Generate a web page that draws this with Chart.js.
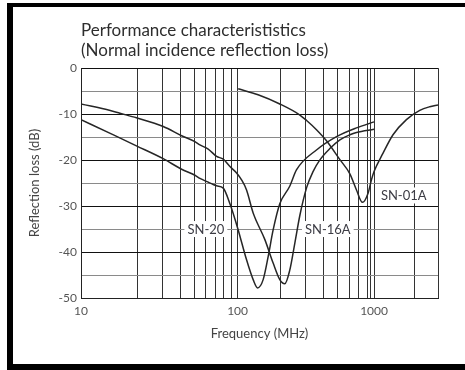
<!DOCTYPE html>
<html><head><meta charset="utf-8">
<script src="https://cdn.jsdelivr.net/npm/chart.js@4/dist/chart.umd.min.js"></script>
<style>
html,body{margin:0;padding:0;background:#fff;}
#frame{position:absolute;left:7px;top:3px;width:458px;height:367px;box-sizing:border-box;border-top:4px solid #000;border-left:6px solid #000;border-bottom:6px solid #000;}
#wrap{position:absolute;left:0;top:0;width:465px;height:370px;}
</style></head><body>
<div id="frame"></div>
<div id="wrap"><canvas id="c" width="465" height="370"></canvas></div>
<script>
// ---- data ----
const freqTicks = [10,20,30,40,50,60,70,80,90,100,200,300,400,500,600,700,800,900,1000,2000,3000];
const freqLabels = [10,100,1000];
const lossTicks = [-50,-45,-40,-35,-30,-25,-20,-15,-10,-5,0];

const sn20Freq = [10,14.3,19.7,30.2,40.6,50.3,54.5,62.3,67.5,71.3,79.4,88.4,95.8,101,115.5,128.4,137.9,150.8,163.4,177,197,231,258,355,490,675,1000];
const sn20Loss = [-11.2,-14.2,-16.9,-19.7,-22,-23.3,-24,-24.8,-25.3,-25.6,-26.1,-29.5,-32.8,-35.2,-41.7,-46,-47.8,-46,-41,-35.2,-29.5,-25.7,-22.1,-17.8,-14.9,-13,-11.7];

const sn16aFreq = [10,14.3,16.1,19.7,30.2,40.6,50.3,54.5,62.3,71.3,79.4,88.4,98.4,106.6,115.5,128.4,155,177,197,213.6,231,251,272,303,336,374,440,517,607,675,1000];
const sn16aLoss = [-7.8,-9.2,-9.8,-10.8,-12.7,-14.7,-16,-16.7,-17.6,-19.2,-19.8,-21.4,-22.8,-24.3,-26.5,-31.5,-37.3,-42.4,-46,-46.9,-44,-38,-32,-26,-22.5,-20,-17.5,-15.6,-14.5,-14,-13.3];

const sn01aFreq = [101,139,197,272,303,355,417,517,607,675,743,826,920,1000,1167,1385,1744,2192,2600,3000];
const sn01aLoss = [-4.5,-5.8,-7.8,-10.2,-11.4,-13.4,-15.8,-19.9,-23,-26.5,-29.2,-27.2,-24.3,-22.5,-18.5,-14.5,-11.2,-9.2,-8.4,-8];

const seriesNames = ['SN-20','SN-16A','SN-01A'];
const labelFreq = [60,426,1665];
const labelLoss = [-35,-35,-27.7];

// ---- axis calibration of the printed (slightly non-uniform) log axis ----
const warpKnots = [[10,0],[20,0.1587],[100,0.4386],[800,0.8013],[1000,0.8209],[3000,1]];

class WarpLogScale extends Chart.LogarithmicScale {
  static id = 'warplog';
  static defaults = {};
  getPixelForValue(value) {
    if (value === undefined || value === 0) value = this.min;
    if (value === null || isNaN(value)) return NaN;
    const lv = Math.log10(value);
    const k = warpKnots;
    let i = 0;
    while (i < k.length - 2 && lv > Math.log10(k[i+1][0])) i++;
    const a = Math.log10(k[i][0]), b = Math.log10(k[i+1][0]);
    const d = k[i][1] + (lv - a) / (b - a) * (k[i+1][1] - k[i][1]);
    return this.getPixelForDecimal(d);
  }
  getValueForPixel(pixel) {
    const d = this.getDecimalForPixel(pixel);
    const k = warpKnots;
    let i = 0;
    while (i < k.length - 2 && d > k[i+1][1]) i++;
    const a = Math.log10(k[i][0]), b = Math.log10(k[i+1][0]);
    return Math.pow(10, a + (d - k[i][1]) / (k[i+1][1] - k[i][1]) * (b - a));
  }
}
Chart.register(WarpLogScale);

const pts = (xs, ys) => xs.map((x, i) => ({x, y: ys[i]}));
const lineStyle = {borderColor:'#262626', borderWidth:1.5, pointRadius:0, fill:false, cubicInterpolationMode:'monotone'};

const seriesLabelPlugin = {
  id: 'seriesLabels',
  beforeDatasetsDraw(chart) {
    const {ctx, scales:{x, y}} = chart;
    ctx.save();
    ctx.font = '13px Lato';
    ctx.textAlign = 'center';
    ctx.textBaseline = 'middle';
    seriesNames.forEach((name, i) => {
      const px = x.getPixelForValue(labelFreq[i]);
      const py = y.getPixelForValue(labelLoss[i]);
      const w = ctx.measureText(name).width;
      ctx.fillStyle = '#fff';
      ctx.fillRect(px - w/2 - 3, py - 8, w + 6, 16);
      ctx.fillStyle = '#3c3c44';
      ctx.fillText(name, px, py + 0.5);
    });
    ctx.restore();
  }
};

new Chart(document.getElementById('c'), {
  type: 'line',
  data: {
    datasets: [
      Object.assign({label: seriesNames[0], data: pts(sn20Freq, sn20Loss)}, lineStyle),
      Object.assign({label: seriesNames[1], data: pts(sn16aFreq, sn16aLoss)}, lineStyle),
      Object.assign({label: seriesNames[2], data: pts(sn01aFreq, sn01aLoss)}, lineStyle)
    ]
  },
  options: {
    responsive: false,
    animation: false,
    layout: {padding: {left: 14, right: 27, top: 20, bottom: 20}},
    plugins: {
      legend: {display: false},
      tooltip: {enabled: false},
      title: {
        display: true,
        text: ['Performance characterististics', '(Normal incidence reflection loss)'],
        align: 'start',
        fullSize: false,
        color: '#2e2e2e',
        font: {family: 'Lato', size: 17, weight: 'normal', lineHeight: 1.18},
        padding: {top: 0, bottom: 8}
      }
    },
    scales: {
      x: {
        type: 'warplog',
        min: 10, max: 3000,
        afterBuildTicks: s => { s.ticks = freqTicks.map(v => ({value: v})); },
        afterFit: s => { s.height = 52; },
        ticks: {
          autoSkip: false, maxRotation: 0, minRotation: 0, padding: 6,
          color: '#555', font: {family: 'Lato', size: 12},
          callback: v => freqLabels.includes(v) ? String(v) : ''
        },
        grid: {color: '#333', lineWidth: 1, drawTicks: false},
        border: {color: '#222', width: 1},
        title: {display: true, text: 'Frequency (MHz)', color: '#444', font: {family: 'Lato', size: 13}, padding: {top: 6, bottom: 8}}
      },
      y: {
        min: -50, max: 0,
        afterBuildTicks: s => { s.ticks = lossTicks.map(v => ({value: v})); },
        afterFit: s => { s.width = 67; },
        ticks: {
          autoSkip: false, padding: 4, color: '#555', font: {family: 'Lato', size: 12},
          callback: v => (v % 10 === 0) ? String(v) : ''
        },
        grid: {color: c => (c.tick && c.tick.value % 10 === 0) ? '#111' : '#8a8a8a', lineWidth: 1, drawTicks: false},
        border: {color: '#222', width: 1},
        title: {display: true, text: 'Reflection loss (dB)', color: '#444', font: {family: 'Lato', size: 13}, padding: {top: 13, bottom: 0}}
      }
    }
  },
  plugins: [seriesLabelPlugin]
});
</script>
</body></html>
